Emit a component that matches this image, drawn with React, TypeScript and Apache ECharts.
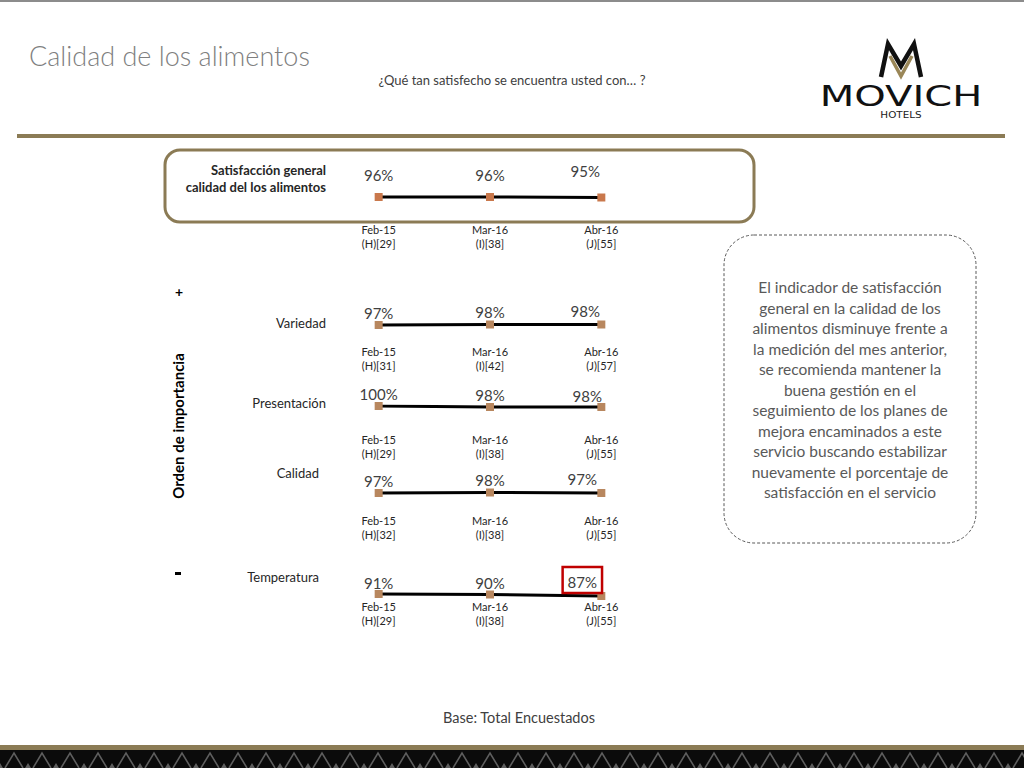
import React, { useEffect, useRef } from "react";
import * as echarts from "echarts";

const periods = ["Feb-15", "Mar-16", "Abr-16"];
const waves = ["H", "I", "J"];

const rowNames = ["Satisfacción general\ncalidad del los alimentos", "Variedad", "Presentación", "Calidad", "Temperatura"];
const generalValues = [96, 96, 95];
const generalBases = [29, 38, 55];
const variedadValues = [97, 98, 98];
const variedadBases = [31, 42, 57];
const presentacionValues = [100, 98, 98];
const presentacionBases = [29, 38, 55];
const calidadValues = [97, 98, 97];
const calidadBases = [32, 38, 55];
const temperaturaValues = [91, 90, 87];
const temperaturaBases = [29, 38, 55];

const seriesValues = [generalValues, variedadValues, presentacionValues, calidadValues, temperaturaValues];
const seriesBases = [generalBases, variedadBases, presentacionBases, calidadBases, temperaturaBases];

const titleText = "Calidad de los alimentos";
const subtitleText = "¿Qué tan satisfecho se encuentra usted con… ?";
const baseText = "Base: Total Encuestados";
const noteText =
  "El indicador de satisfacción\ngeneral en la calidad de los\nalimentos disminuye frente a\nla medición del mes anterior,\nse recomienda mantener la\nbuena gestión en el\nseguimiento de los planes de\nmejora encaminados a este\nservicio buscando estabilizar\nnuevamente el porcentaje de\nsatisfacción en el servicio";

// layout (positions only)
const rowLayout = [
  { top: 195, margin: 17, dist: 11, last: [-16, -4], marker: "#c9784c" },
  { top: 323.5, margin: 10.5, dist: 1, last: [-16, -1], marker: "#b8875f" },
  { top: 406, margin: 16, dist: 1, last: [-14, 1], marker: "#b8875f" },
  { top: 491.5, margin: 11.5, dist: 1, last: [-19, -2], marker: "#b8875f" },
  { top: 589.5, margin: 0, dist: 0, last: [-19, 1], marker: "#b8875f" },
];
const highlight = { row: 4, index: 2 };

const GOLD = "#8b7b55";
const FONT = "Lato, 'Open Sans', sans-serif";

function txt(text: string, x: number, y: number, o: any = {}) {
  const align = o.align || "left";
  const va = o.va || "middle";
  return {
    type: "text",
    x,
    y,
    rotation: o.rotation || 0,
    scaleX: o.scaleX || 1,
    silent: true,
    style: {
      text,
      x: 0,
      y: 0,
      fill: o.fill || "#262626",
      fontSize: o.size || 12,
      fontFamily: o.family || FONT,
      fontWeight: o.weight || "normal",
      lineHeight: o.lh,
      align,
      textAlign: align,
      verticalAlign: va,
      textVerticalAlign: va,
    },
  };
}

export default function App() {
  const ref = useRef<HTMLDivElement>(null);
  useEffect(() => {
    if (!ref.current) return;
    const chart = echarts.init(ref.current, null, { renderer: "svg" });

    const grids: any[] = [];
    const xAxes: any[] = [];
    const yAxes: any[] = [];
    const series: any[] = [];
    seriesValues.forEach((vals, r) => {
      const L = rowLayout[r];
      grids.push({ left: 323, width: 334, top: L.top, height: 10 });
      xAxes.push({
        type: "category",
        gridIndex: r,
        data: periods.map((p, i) => `${p}\n(${waves[i]})[${seriesBases[r][i]}]`),
        axisLine: { show: false },
        axisTick: { show: false },
        splitLine: { show: false },
        axisLabel: { margin: L.margin, fontSize: 11, lineHeight: 14, color: "#262626", fontFamily: FONT },
      });
      yAxes.push({ type: "value", gridIndex: r, min: 80, max: 100, show: false });
      series.push({
        type: "line",
        xAxisIndex: r,
        yAxisIndex: r,
        data: vals.map((v, i) => {
          const item: any = { value: v };
          if (i === vals.length - 1) {
            item.label = { offset: L.last };
            if (highlight.row === r && highlight.index === i) {
              item.label = {
                offset: L.last,
                borderColor: "#c00000",
                borderWidth: 2.5,
                padding: [7, 5, 4, 5],
              };
            }
          }
          return item;
        }),
        symbol: "rect",
        symbolSize: 8,
        itemStyle: { color: L.marker },
        lineStyle: { color: "#000", width: 3 },
        label: {
          show: true,
          position: "top",
          distance: L.dist,
          fontSize: 15,
          color: "#404040",
          fontFamily: FONT,
          formatter: "{c}%",
        },
        z: 3,
      });
    });

    // bottom pattern
    const pattern: any[] = [];
    for (let x = -14; x < 1040; x += 28) {
      pattern.push({
        type: "polyline",
        silent: true,
        shape: { points: [[x - 9, 768], [x, 753], [x + 9, 768]] },
        style: { stroke: "#5e5e5e", lineWidth: 1.6, fill: "none" },
      });
      pattern.push({
        type: "polygon",
        silent: true,
        shape: { points: [[x + 11, 768], [x + 14, 763], [x + 17, 768]] },
        style: { fill: "#5e5e5e" },
      });
    }

    const graphic: any[] = [
      { type: "rect", silent: true, shape: { x: 0, y: 0, width: 1024, height: 2 }, style: { fill: "#8c8c8c" } },
      { type: "rect", silent: true, shape: { x: 17, y: 134, width: 988, height: 4 }, style: { fill: GOLD } },
      txt(titleText, 29, 55, { size: 27, fill: "#7f7f7f", weight: 300 }),
      txt(subtitleText, 512, 80, { size: 13, align: "center", fill: "#404040" }),
      // logo
      {
        type: "polyline",
        silent: true,
        shape: { points: [[881, 77], [888, 44], [901, 66], [914, 44], [921, 77]] },
        style: { stroke: "#111", lineWidth: 4.5, fill: "none", lineJoin: "miter" },
      },
      {
        type: "polyline",
        silent: true,
        shape: { points: [[890, 56], [901, 76], [912, 56]] },
        style: { stroke: "#9a8758", lineWidth: 3.5, fill: "none" },
      },
      txt("MOVICH", 901, 96, { size: 29, align: "center", fill: "#111", family: "'DejaVu Sans', sans-serif", scaleX: 1.38 }),
      txt("HOTELS", 901, 115, { size: 8, align: "center", fill: "#222", family: "'DejaVu Sans', sans-serif", scaleX: 1.3 }),
      // framed general row
      {
        type: "rect",
        silent: true,
        shape: { x: 165, y: 150, width: 589, height: 72, r: 15 },
        style: { fill: "none", stroke: GOLD, lineWidth: 3 },
      },
      txt(rowNames[0], 326, 178, { size: 13, align: "right", weight: "bold", lh: 17 }),
      txt(rowNames[1], 326, 323, { size: 13, align: "right" }),
      txt(rowNames[2], 326, 403, { size: 13, align: "right" }),
      txt(rowNames[3], 319, 473, { size: 13, align: "right" }),
      txt(rowNames[4], 319, 577, { size: 13, align: "right" }),
      txt("Orden de importancia", 178, 426, { size: 15, weight: "bold", align: "center", rotation: Math.PI / 2, fill: "#000" }),
      txt("+", 179, 291, { size: 14, weight: "bold", align: "center", fill: "#000" }),
      { type: "rect", silent: true, shape: { x: 175, y: 572, width: 6, height: 3 }, style: { fill: "#000" } },
      // note box
      {
        type: "rect",
        silent: true,
        shape: { x: 724, y: 235, width: 252, height: 308, r: 30 },
        style: { fill: "none", stroke: "#595959", lineWidth: 1, lineDash: [3, 2] },
      },
      txt(noteText, 850, 389.5, { size: 15.5, align: "center", fill: "#595959", lh: 20.5 }),
      txt(baseText, 519, 717, { size: 14.5, align: "center", fill: "#404040" }),
      // footer band
      { type: "rect", silent: true, shape: { x: 0, y: 745, width: 1024, height: 5 }, style: { fill: GOLD } },
      { type: "rect", silent: true, shape: { x: 0, y: 750, width: 1024, height: 18 }, style: { fill: "#0b0b0b" } },
      ...pattern,
    ];

    chart.setOption({
      animation: false,
      backgroundColor: "#ffffff",
      grid: grids,
      xAxis: xAxes,
      yAxis: yAxes,
      series,
      graphic,
    });
    return () => chart.dispose();
  }, []);

  return (
    <div
      ref={ref}
      style={{ position: "fixed", left: 0, top: 0, width: 1024, height: 768, background: "#fff" }}
    />
  );
}
